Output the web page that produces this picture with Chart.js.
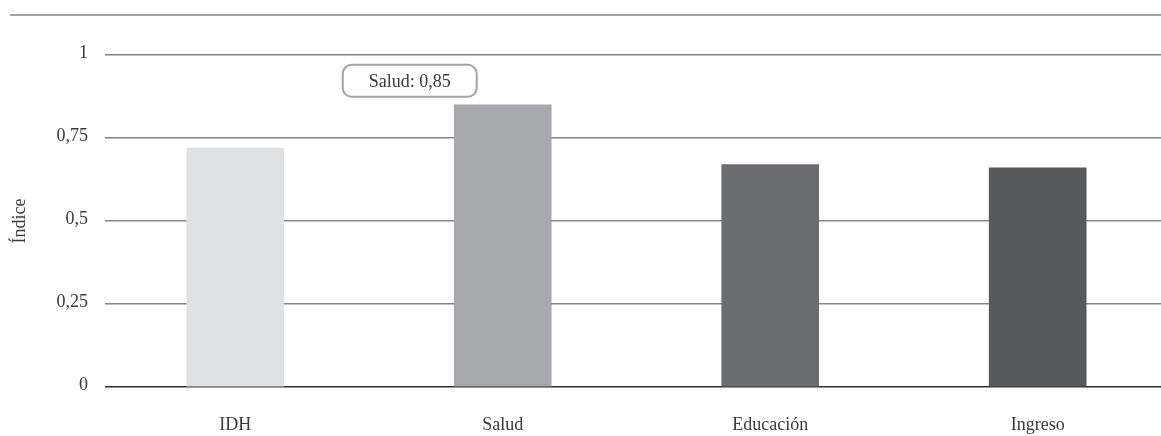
<!DOCTYPE html>
<html lang="es">
<head>
<meta charset="utf-8">
<title>Índice de desarrollo humano y sus componentes</title>
<script src="https://cdn.jsdelivr.net/npm/chart.js@4"></script>
<style>
  html, body { margin: 0; padding: 0; background: #fff; }
  .wrap { position: relative; width: 1161px; height: 436px; overflow: hidden; }
  .rule { position: absolute; top: 14px; left: 10px; right: 0; border-top: 2px solid #a3a3a3; }
  canvas { position: absolute; left: 0; top: 0; }
</style>
</head>
<body>
<div class="wrap">
  <div class="rule"></div>
  <canvas id="idhChart" width="1161" height="436"></canvas>
</div>
<script>
    const categories = ['IDH', 'Salud', 'Educación', 'Ingreso'];
    const indexValues = [0.72, 0.85, 0.67, 0.66];
    const yTicks = [0, 0.25, 0.5, 0.75, 1];
    const barColors = ['#e0e1e3', '#a7a8ab', '#6c6d70', '#58595b'];
    const highlighted = 1; // Salud gets the callout box

    const serif = '"Liberation Serif", "DejaVu Serif", serif';
    const comma = v => String(v).replace('.', ',');

    // rounded callout next to the highlighted bar
    const calloutPlugin = {
        id: 'callout',
        afterDatasetsDraw(chart) {
            const bar = chart.getDatasetMeta(0).data[highlighted];
            if (!bar) return;
            const ctx = chart.ctx;
            const text = `${categories[highlighted]}: ${comma(indexValues[highlighted])}`;
            const w = 134, h = 32, r = 9;
            const cx = bar.x - 93, cy = bar.y - 24;
            ctx.save();
            ctx.beginPath();
            ctx.roundRect(cx - w / 2, cy - h / 2, w, h, r);
            ctx.fillStyle = '#fff';
            ctx.fill();
            ctx.lineWidth = 2;
            ctx.strokeStyle = '#a3a3a3';
            ctx.stroke();
            ctx.font = `18px ${serif}`;
            ctx.fillStyle = '#3a3a3a';
            ctx.textAlign = 'center';
            ctx.textBaseline = 'middle';
            ctx.fillText(text, cx, cy + 1);
            ctx.restore();
        }
    };

    new Chart(document.getElementById('idhChart').getContext('2d'), {
        type: 'bar',
        data: {
            datasets: [{
                data: indexValues.map((v, i) => ({x: i, y: v})),
                backgroundColor: barColors,
                borderWidth: 0,
                barThickness: 97
            }]
        },
        options: {
            responsive: false,
            animation: false,
            layout: { padding: { top: 55, right: 0, bottom: 0, left: 0 } },
            scales: {
                x: {
                    type: 'linear',
                    offset: false,
                    min: -0.487, max: 3.461,
                    afterBuildTicks: s => { s.ticks = categories.map((_, i) => ({value: i})); },
                    afterFit: s => { s.height = 49; },
                    grid: { display: false },
                    border: { display: false },
                    ticks: {
                        padding: 19,
                        color: '#3a3a3a',
                        font: { family: serif, size: 18 },
                        callback: v => categories[v] ?? ''
                    }
                },
                y: {
                    min: 0, max: 1,
                    afterBuildTicks: s => { s.ticks = yTicks.map(v => ({value: v})); },
                    afterFit: s => { s.width = 105; },
                    border: { display: false },
                    grid: {
                        drawTicks: false,
                        lineWidth: 1.5,
                        color: c => c.tick && c.tick.value === 0 ? '#2e2e2e' : '#858585'
                    },
                    ticks: {
                        padding: 17,
                        labelOffset: -2,
                        color: '#3a3a3a',
                        font: { family: serif, size: 18 },
                        callback: v => comma(v)
                    },
                    title: {
                        display: true,
                        text: 'Índice',
                        color: '#3a3a3a',
                        font: { family: serif, size: 18 },
                        padding: { top: 9, bottom: 0 }
                    }
                }
            },
            plugins: {
                legend: { display: false },
                tooltip: { enabled: false }
            }
        },
        plugins: [calloutPlugin]
    });
</script>
</body>
</html>
